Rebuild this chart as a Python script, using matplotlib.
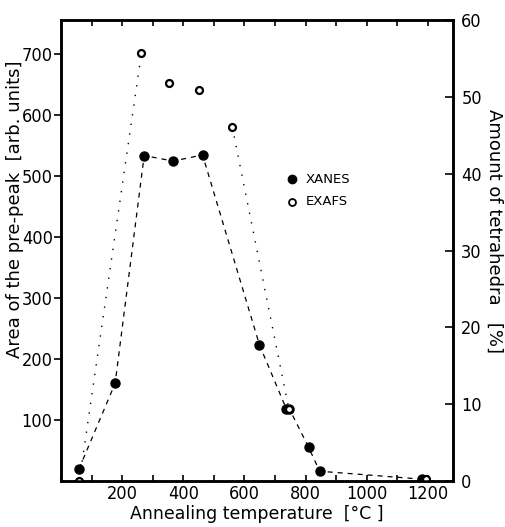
import numpy as np
import matplotlib.pyplot as plt
from matplotlib.ticker import MultipleLocator, FixedLocator

plt.rcParams['font.family'] = ['DejaVu Sans']
plt.rcParams['font.stretch'] = 'condensed'   # tick numbers are narrow in the original

# XANES (filled) -> left axis, pre-peak area
xanes_T = [59, 177, 272, 367, 463, 649, 737, 747, 810, 846, 1180]
xanes_area = [20, 160, 533, 524, 534, 223, 118, 118, 55, 16, 3]

# EXAFS (open) -> right axis, amount of tetrahedra [%]
exafs_T = [60, 263, 354, 452, 560, 745, 1195]
exafs_pct = [0, 55.7, 51.8, 50.9, 46.1, 9.4, 0.3]

left_ticks = [100, 200, 300, 400, 500, 600, 700]
right_ticks = [0, 10, 20, 30, 40, 50, 60]
x_ticks = [200, 400, 600, 800, 1000, 1200]

fig = plt.figure(figsize=(5.06, 5.27), dpi=100)
ax = fig.add_axes([0.1206, 0.0873, 0.7746, 0.8747])
ax2 = ax.twinx()

ax.set_xlim(0, 1282)
ax.set_ylim(0, 755)
ax2.set_ylim(0, 60)

ax.plot(xanes_T, xanes_area, ls=(0, (4, 4)), color='black', lw=0.9,
        marker='o', ms=6.5, mfc='black', mec='black')

# dotted lines only where the original draws them
ax2.plot(exafs_T[0:2], exafs_pct[0:2], ls=(0, (1, 6)), color='black', lw=1.0)
ax2.plot(exafs_T[4:6], exafs_pct[4:6], ls=(0, (1, 6)), color='black', lw=1.0)
ax2.plot(exafs_T, exafs_pct, ls='none', marker='o', ms=5, mfc='white',
         mec='black', mew=1.6)

# legend drawn by hand like the original
ax.plot([757], [494], 'o', color='black', ms=6)
ax.text(800, 494, 'XANES', fontsize=9.5, va='center', fontstretch='normal')
ax.plot([757], [457], 'o', mfc='white', mec='black', mew=1.3, ms=5)
ax.text(800, 457, 'EXAFS', fontsize=9.5, va='center', fontstretch='normal')

for a in (ax, ax2):
    for s in a.spines.values():
        s.set_linewidth(1.8)

ax.xaxis.set_major_locator(FixedLocator(x_ticks))
ax.xaxis.set_minor_locator(MultipleLocator(100))
ax.tick_params(axis='x', which='both', direction='in', top=True,
               length=4, width=1.2, labelsize=13, pad=3)
ax.yaxis.set_major_locator(FixedLocator(left_ticks))
ax.tick_params(axis='y', direction='out', length=5, width=1.2,
               labelsize=13, pad=1)
ax2.yaxis.set_major_locator(FixedLocator(right_ticks))
ax2.tick_params(axis='y', direction='in', length=6, width=1.2,
                labelsize=13, pad=6)

ax.set_xlabel('Annealing temperature  [°C ]', fontsize=12.5, labelpad=1,
              fontstretch='normal')
ax.set_ylabel('Area of the pre-peak  [arb. units]', fontsize=13,
              fontstretch='normal')
ax.yaxis.set_label_coords(-0.094, 0.59)
ax2.set_ylabel('Amount of tetrahedra   [%]', fontsize=13, rotation=-90,
               va='center', ha='center', fontstretch='normal')
ax2.yaxis.set_label_coords(1.105, 0.542)

fig.savefig('out.png', dpi=100)
